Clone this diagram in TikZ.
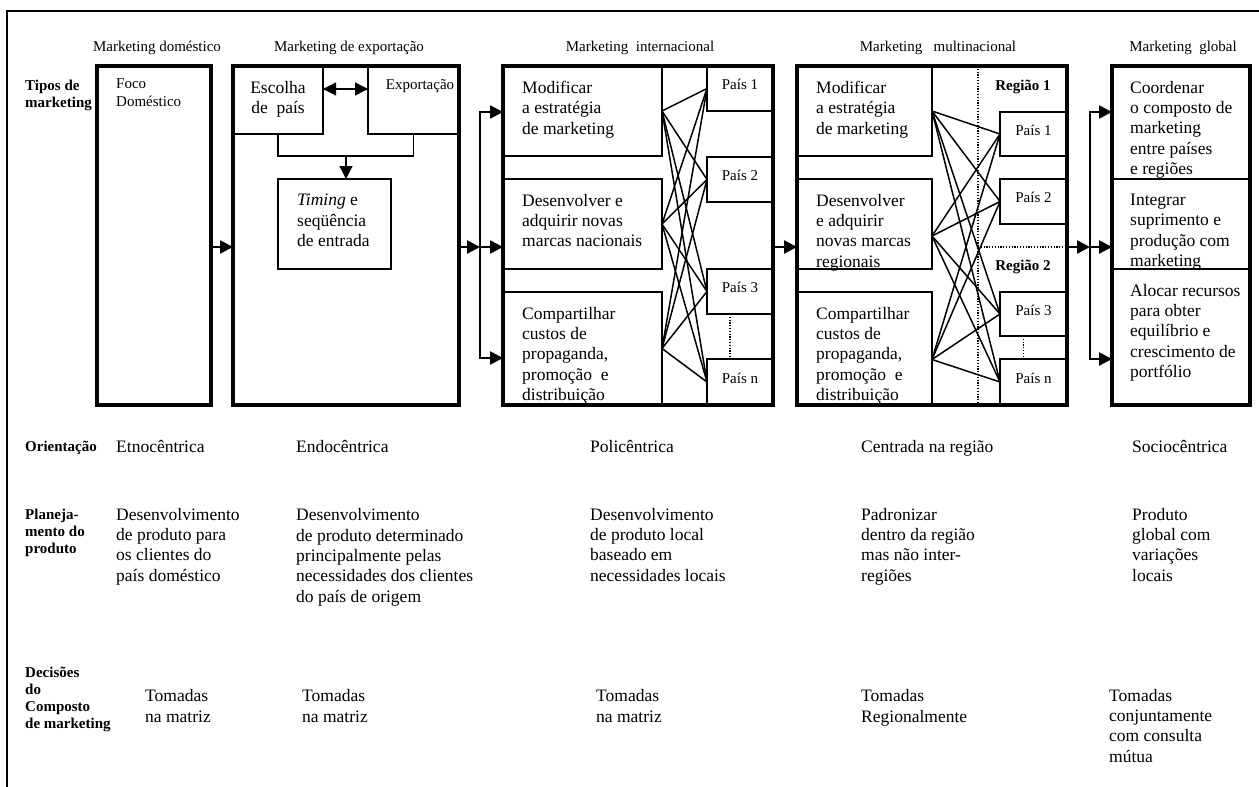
\documentclass[tikz,border=0pt]{standalone}
\usepackage{fontspec}
\setmainfont{Liberation Serif}
\usetikzlibrary{arrows.meta, positioning, calc}

\newcommand{\bodyfont}{\fontsize{17.5pt}{20.3pt}\selectfont}
\newcommand{\smallfont}{\fontsize{15pt}{18pt}\selectfont}
\newcommand{\labelfont}{\bfseries\fontsize{15pt}{17pt}\selectfont}

\tikzset{
    stagebox/.style={
        draw,
        line width=3.4pt,
        anchor=north west,
        inner sep=0pt,
        outer sep=0pt,
        minimum height=339pt
    },
    cell/.style={
        draw,
        line width=1.5pt,
        anchor=north west,
        inner sep=0pt,
        outer sep=0pt
    },
    celltext/.style={
        anchor=north west,
        align=left,
        inner sep=0pt,
        font=\bodyfont,
        execute at begin node=\strut
    },
    country/.style={
        draw,
        line width=1.5pt,
        anchor=north west,
        inner sep=0pt,
        outer sep=0pt,
        minimum width=66pt,
        text height=10.5pt,
        text depth=8.5pt,
        font=\smallfont
    },
    heading/.style={font=\smallfont, anchor=base, inner sep=0pt},
    innertext/.style={font=\smallfont, anchor=base west, align=left, inner sep=0pt},
    rowlabel/.style={font=\labelfont, anchor=base west, align=left, inner sep=0pt},
    rowtext/.style={font=\bodyfont, anchor=base west, align=left, inner sep=0pt},
    regionlabel/.style={font=\labelfont, anchor=base, inner sep=0pt},
    flow/.style={
        ->,
        >={Triangle[length=13pt,width=13pt]},
        line width=2.5pt,
        line join=miter
    },
    link/.style={line width=1.5pt},
    dots/.style={line width=1.2pt, dash pattern=on 1.2pt off 1.6pt}
}

\begin{document}
\begin{tikzpicture}[x=1pt, y=-1pt]
    \useasboundingbox (0,0) rectangle (1259,787);
    % Outer frame
    \draw[line width=1.3pt] (7,787) |- (1259,11);

    % Headings
    \node[heading] (hdom) at (157,51) {Marketing doméstico};
    \node[heading] (hexp) at (349,51) {Marketing de exportação};
    \node[heading] (hint) at (640,51) {Marketing\ \ internacional};
    \node[heading] (hmul) at (938,51) {Marketing\ \ \ multinacional};
    \node[heading] (hglo) at (1183,51) {Marketing\ \ global};

    % Row labels (anchored on their last line)
    \node[rowlabel] (ltipos) at (25,107) {Tipos de\\marketing};
    \node[rowlabel] (lorient) at (25,451) {Orientação};
    \node[rowlabel] (lplan) at (25,553) {Planeja-\\mento do\\produto};
    \node[rowlabel] (ldec) at (25,728) {Decisões\\do\\Composto\\de marketing};

    % Marketing domestico
    \node[stagebox, minimum width=114pt] (dom) at (97,66) {};
    \node[innertext] (foco) at (116,106) {Foco\\Doméstico};

    % Marketing de exportacao
    \node[cell, minimum width=90pt, minimum height=68pt] (esc) at (233,66) {};
    \node[celltext, anchor=north, align=center, below=15pt of esc.north] (tesc) {Escolha\\de\ \ país};
    \node[cell, minimum width=91pt, minimum height=68pt] (expo) at (368,66) {};
    \node[innertext, anchor=base] (expolbl) at (420,89) {Exportação};
    \node[cell, minimum width=113pt, minimum height=90pt] (timing) at (278,179) {};
    \node[celltext, below right=15pt and 19pt of timing.north west] (ttiming) {\textit{Timing} e\\seqüência\\de entrada};
    \node[stagebox, minimum width=226pt] (exp) at (233,66) {};
    \coordinate (join) at (346,156);
    \coordinate (dbl) at (346,89);
    \draw[link] (esc.south) |- (join) -| (expo.south);
    \draw[flow, line width=1.5pt] (join) -- (join |- timing.north);
    \draw[flow, <->, line width=1.5pt] (esc.east |- dbl) -- (expo.west |- dbl);

    % Marketing internacional
    \node[cell, minimum width=159pt, minimum height=90pt] (i1) at (503,66) {};
    \node[cell, minimum width=159pt, minimum height=90pt] (i2) at (503,179) {};
    \node[cell, minimum width=159pt, minimum height=113pt] (i3) at (503,292) {};
    \node[celltext, below right=15pt and 19pt of i1.north west] (ti1) {Modificar\\a estratégia\\de marketing};
    \node[celltext, below right=15pt and 19pt of i2.north west] (ti2) {Desenvolver e\\adquirir novas\\marcas nacionais};
    \node[celltext, below right=15pt and 19pt of i3.north west] (ti3) {Compartilhar\\custos de\\propaganda,\\promoção\ \ e\\distribuição};
    \node[country, minimum height=45pt] (ip1) at (707,66) {País 1};
    \node[country, minimum height=45pt] (ip2) at (707,157) {País 2};
    \node[country, minimum height=45pt] (ip3) at (707,269) {País 3};
    \node[country, minimum height=46pt] (ipn) at (707,359) {País n};
    \node[stagebox, minimum width=270pt] (intl) at (503,66) {};
    \foreach \a in {i1,i2,i3}
        \foreach \b in {ip1,ip2,ip3,ipn}
            \draw[link] (\a.east) -- (\b.west);
    \draw[dots] ([xshift=-10pt]ip3.south) -- ([xshift=-10pt]ipn.north);

    % Marketing multinacional
    \node[cell, minimum width=135pt, minimum height=90pt] (m1) at (797,66) {};
    \node[cell, minimum width=135pt, minimum height=90pt] (m2) at (797,179) {};
    \node[cell, minimum width=135pt, minimum height=113pt] (m3) at (797,292) {};
    \node[celltext, below right=15pt and 19pt of m1.north west] (tm1) {Modificar\\a estratégia\\de marketing};
    \node[celltext, below right=15pt and 19pt of m2.north west] (tm2) {Desenvolver\\e adquirir\\novas marcas\\regionais};
    \node[celltext, below right=15pt and 19pt of m3.north west] (tm3) {Compartilhar\\custos de\\propaganda,\\promoção\ \ e\\distribuição};
    \node[country, minimum width=67pt, minimum height=44pt] (mp1) at (1000,112) {País 1};
    \node[country, minimum width=67pt, minimum height=45pt] (mp2) at (1000,179) {País 2};
    \node[country, minimum width=67pt, minimum height=44pt] (mp3) at (1000,292) {País 3};
    \node[country, minimum width=67pt, minimum height=46pt] (mpn) at (1000,359) {País n};
    \node[stagebox, minimum width=270pt] (multi) at (797,66) {};
    \node[regionlabel] (r1) at (1023,90) {Região 1};
    \node[regionlabel] (r2) at (1023,270) {Região 2};
    \foreach \a/\s in {m1/0pt,m2/-12pt,m3/-11pt}
        \foreach \b in {mp1,mp2,mp3,mpn}
            \draw[link] ([yshift=\s]\a.east) -- (\b.west);
    \coordinate (reg) at (978,247);
    \draw[dots] (reg |- multi.north) -- (reg |- multi.south);
    \draw[dots] (reg) -- (reg -| multi.east);
    \draw[dots] ([xshift=-10pt]mp3.south) -- ([xshift=-10pt]mpn.north);

    % Marketing global
    \node[cell, minimum width=138pt, minimum height=113pt] (g1) at (1112,66) {};
    \node[cell, minimum width=138pt, minimum height=90pt] (g2) at (1112,179) {};
    \node[cell, minimum width=138pt, minimum height=136pt] (g3) at (1112,269) {};
    \node[celltext, below right=15pt and 18pt of g1.north west] (tg1) {Coordenar\\o composto de\\marketing\\entre países\\e regiões};
    \node[celltext, below right=15pt and 18pt of g2.north west] (tg2) {Integrar\\suprimento e\\produção com\\marketing};
    \node[celltext, below right=15pt and 18pt of g3.north west] (tg3) {Alocar recursos\\para obter\\equilíbrio e\\crescimento de\\portfólio};
    \node[stagebox, minimum width=138pt] (glob) at (1112,66) {};

    % Arrows between stages
    \coordinate (busIT) at (480,112);
    \coordinate (busIM) at (480,247);
    \coordinate (busIB) at (480,358);
    \coordinate (busGT) at (1090,112);
    \coordinate (busGM) at (1090,247);
    \coordinate (busGB) at (1090,359);
    \draw[flow] (dom.east |- busIM) -- (exp.west |- busIM);
    \draw[flow] (exp.east |- busIM) -- (busIM);
    \draw[flow, <->] (busIB -| intl.west) -- (busIB) -- (busIT) -- (busIT -| intl.west);
    \draw[flow] (busIM) -- (busIM -| intl.west);
    \draw[flow] (intl.east |- busIM) -- (multi.west |- busIM);
    \draw[flow] (multi.east |- busGM) -- (busGM);
    \draw[flow, <->] (busGB -| glob.west) -- (busGB) -- (busGT) -- (busGT -| glob.west);
    \draw[flow] (busGM) -- (busGM -| glob.west);

    % Orientation
    \node[rowtext] (o1) at (116,452) {Etnocêntrica};
    \node[rowtext] (o2) at (296,452) {Endocêntrica};
    \node[rowtext] (o3) at (590,452) {Policêntrica};
    \node[rowtext] (o4) at (861,452) {Centrada na região};
    \node[rowtext] (o5) at (1132,452) {Sociocêntrica};

    % Product planning (anchored on the last line)
    \node[rowtext] (p1) at (116,581) {Desenvolvimento\\de produto para\\os clientes do\\país doméstico};
    \node[rowtext] (p2) at (296,602) {Desenvolvimento\\de produto determinado\\principalmente pelas\\necessidades dos clientes\\do país de origem};
    \node[rowtext] (p3) at (590,581) {Desenvolvimento\\de produto local\\baseado em\\necessidades locais};
    \node[rowtext] (p4) at (861,581) {Padronizar\\dentro da região\\mas não inter-\\regiões};
    \node[rowtext] (p5) at (1132,581) {Produto\\global com\\variações\\locais};

    % Marketing mix decisions
    \node[rowtext] (d1) at (145,722) {Tomadas\\na matriz};
    \node[rowtext] (d2) at (302,722) {Tomadas\\na matriz};
    \node[rowtext] (d3) at (596,722) {Tomadas\\na matriz};
    \node[rowtext] (d4) at (861,722) {Tomadas\\Regionalmente};
    \node[rowtext] (d5) at (1109,762) {Tomadas\\conjuntamente\\com consulta\\mútua};
\end{tikzpicture}
\end{document}
